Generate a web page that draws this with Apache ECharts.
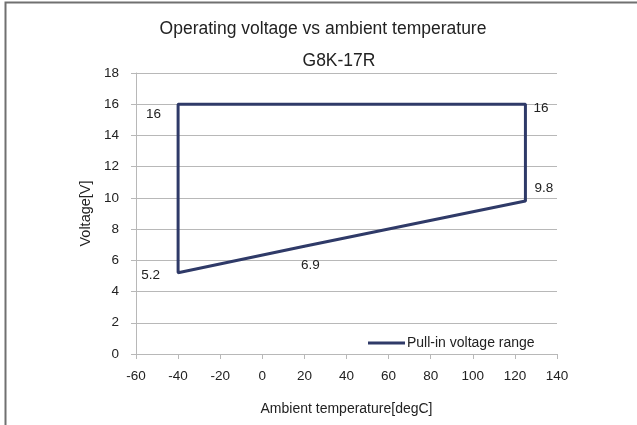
<html>
<head>
    <meta charset='utf-8' />
    <script src="https://cdn.jsdelivr.net/npm/echarts@6/dist/echarts.min.js"></script>
    <title>Operating voltage vs ambient temperature</title>
    <style>
        body { margin: 0; background: #fff; }
        #chart { width: 637px; height: 425px; }
    </style>
</head>
<body>
    <div id="chart"></div>
    <script type="text/javascript">
        // outline of the pull-in voltage range, drawn as one closed polyline
        var temps = [-40, 20, 125, 125, -40, -40];
        var volts = [5.2, 6.9, 9.8, 16, 16, 5.2];
        var xTicks = [-60, -40, -20, 0, 20, 40, 60, 80, 100, 120, 140];
        var yTicks = [0, 2, 4, 6, 8, 10, 12, 14, 16, 18];
        var seriesName = 'Pull-in voltage range';

        var navy = '#2f3a68';
        var font = 'Liberation Sans, Arial, sans-serif';

        // where each point's value label sits (Excel put them by hand)
        var labelStyles = [
            { position: 'left', distance: 17, offset: [0, 2] },
            { position: 'bottom', distance: 8, offset: [6, 3] },
            { position: 'right', distance: 8, offset: [0, -13] },
            { position: 'right', distance: 7, offset: [0, 4] },
            { position: 'left', distance: 16, offset: [0, 10] },
            { show: false }
        ];

        var points = temps.map(function(t, i) {
            return {
                value: [t, volts[i]],
                label: labelStyles[i]
            };
        });

        var chart = echarts.init(document.getElementById('chart'));
        var option = {
            animation: false,
            textStyle: { fontFamily: font },
            title: [{
                text: 'Operating voltage vs ambient temperature',
                left: 318,
                top: 15,
                textAlign: 'center',
                textStyle: { fontSize: 17.5, fontWeight: 'normal', color: '#222', fontFamily: font }
            }, {
                text: 'G8K-17R',
                left: 334,
                top: 47,
                textAlign: 'center',
                textStyle: { fontSize: 17.5, fontWeight: 'normal', color: '#222', fontFamily: font }
            }],
            graphic: [{
                type: 'polyline',
                shape: { points: [[5.5, 425], [5.5, 2.5], [637, 2.5]] },
                style: { stroke: '#707070', lineWidth: 2, fill: null }
            }],
            legend: {
                left: 363,
                top: 331,
                icon: 'rect',
                itemWidth: 37,
                itemHeight: 3,
                itemGap: 0,
                textStyle: { fontSize: 14, color: '#222', padding: [0, 0, 0, -3] },
                data: [seriesName]
            },
            grid: { left: 136, right: 80, top: 73, bottom: 71 },
            xAxis: {
                type: 'value',
                min: xTicks[0],
                max: xTicks[xTicks.length - 1],
                interval: 20,
                name: 'Ambient temperature[degC]',
                nameLocation: 'middle',
                nameGap: 48,
                nameTextStyle: { fontSize: 14, color: '#222' },
                axisLine: { show: true, lineStyle: { color: '#b8b8b8', width: 1 } },
                axisTick: { show: true, length: 5, lineStyle: { color: '#b8b8b8' } },
                axisLabel: { fontSize: 13.5, color: '#222', margin: 15 },
                splitLine: { show: false }
            },
            yAxis: {
                type: 'value',
                min: yTicks[0],
                max: yTicks[yTicks.length - 1],
                interval: 2,
                name: 'Voltage[V]',
                nameLocation: 'middle',
                nameGap: 41,
                nameTextStyle: { fontSize: 14.5, color: '#222' },
                axisLine: { show: true, onZero: false, lineStyle: { color: '#b8b8b8', width: 1 } },
                axisTick: { show: true, length: 5, lineStyle: { color: '#b8b8b8' } },
                axisLabel: { fontSize: 13.5, color: '#222', margin: 17 },
                splitLine: { show: true, lineStyle: { color: '#b8b8b8', width: 1 } }
            },
            series: [{
                name: seriesName,
                type: 'line',
                data: points,
                symbol: 'circle',
                symbolSize: 2,
                itemStyle: { color: navy },
                lineStyle: { color: navy, width: 3 },
                label: {
                    show: true,
                    fontSize: 13.5,
                    color: '#222',
                    formatter: function(p) { return p.value[1]; }
                }
            }]
        };
        chart.setOption(option);
    </script>
</body>
</html>
